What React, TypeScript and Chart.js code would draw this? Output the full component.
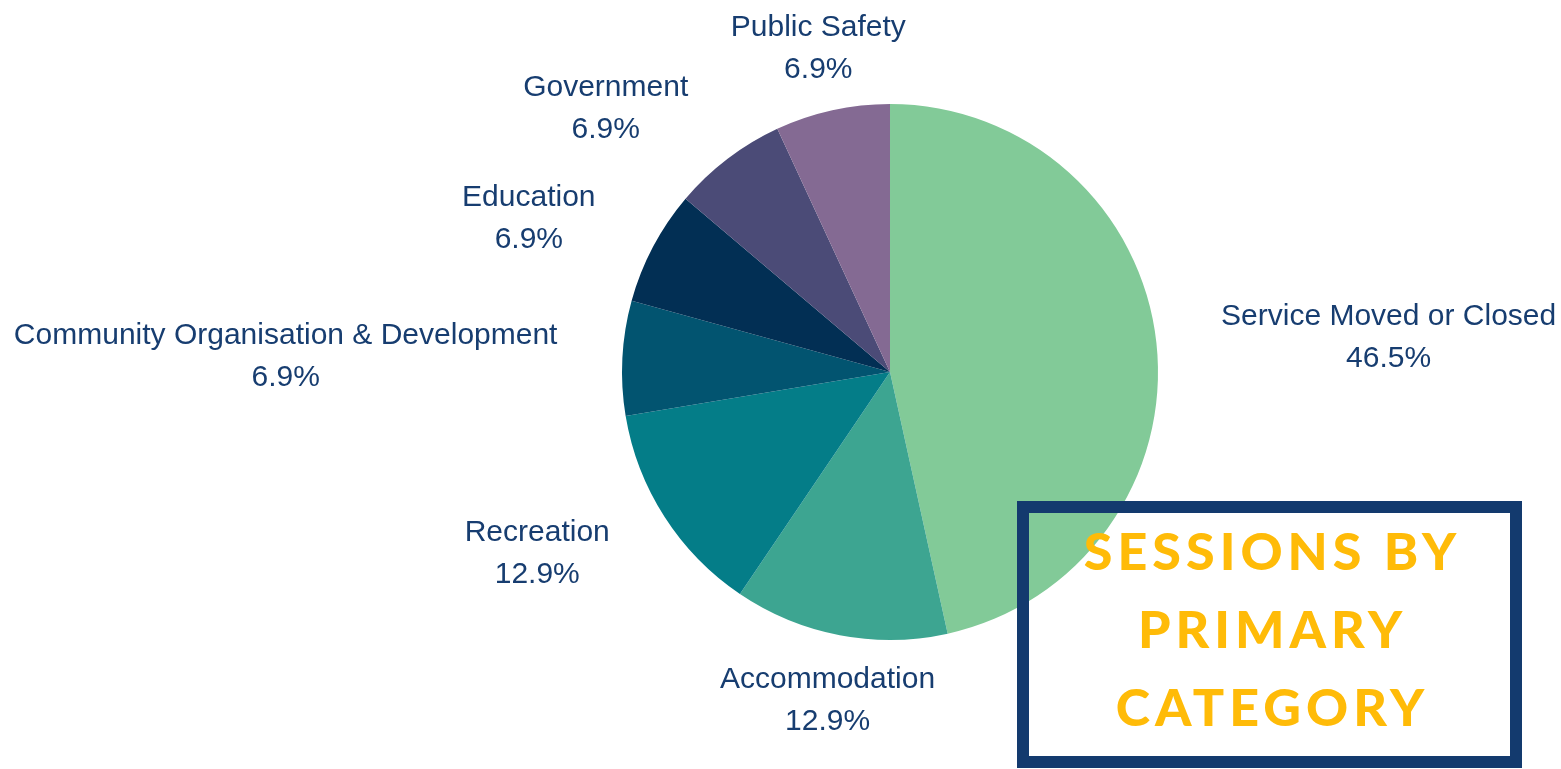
import React, { useEffect, useRef } from "react";
import { Chart, registerables } from "chart.js";

Chart.register(...registerables);

const categories = [
  "Service Moved or Closed",
  "Accommodation",
  "Recreation",
  "Community Organisation & Development",
  "Education",
  "Government",
  "Public Safety",
];
const values = [46.5, 12.9, 12.9, 6.9, 6.9, 6.9, 6.9];
const valueLabels = ["46.5%", "12.9%", "12.9%", "6.9%", "6.9%", "6.9%", "6.9%"];
const colors = ["#82ca98", "#3da591", "#047d88", "#025470", "#022f54", "#4b4b77", "#846a93"];
const titleLines = ["SESSIONS BY", "PRIMARY", "CATEGORY"];

const LABEL_COLOR = "#173d70";
const LABEL_FONT = "30px 'Liberation Sans', Arial, sans-serif";

const labelPlugin = {
  id: "outsideLabels",
  afterDatasetsDraw(chart: any) {
    const ctx = chart.ctx as CanvasRenderingContext2D;
    const meta = chart.getDatasetMeta(0);
    ctx.save();
    ctx.font = LABEL_FONT;
    ctx.fillStyle = LABEL_COLOR;
    ctx.textBaseline = "middle";
    const lineH = 42;
    meta.data.forEach((arc: any, i: number) => {
      const { x, y, startAngle, endAngle, outerRadius } = arc.getProps(
        ["x", "y", "startAngle", "endAngle", "outerRadius"],
        true
      );
      const mid = (startAngle + endAngle) / 2;
      const R = outerRadius + 65;
      const dx = Math.cos(mid);
      const dy = Math.sin(mid);
      const px = x + dx * R;
      const py = y + dy * R + 2;
      const lines = [categories[i], valueLabels[i]];
      const w = Math.max(...lines.map((l) => ctx.measureText(l).width));
      let cx: number;
      if (Math.abs(dx) < 0.3) cx = px;
      else if (dx > 0) cx = px + w / 2;
      else cx = px - w / 2;
      ctx.textAlign = "center";
      const top = py - lineH / 2;
      lines.forEach((l, k) => {
        ctx.fillText(l, cx, top + k * lineH);
      });
    });
    ctx.restore();
  },
};

const boxPlugin = {
  id: "titleBox",
  afterDraw(chart: any) {
    const ctx = chart.ctx as CanvasRenderingContext2D;
    ctx.save();
    ctx.strokeStyle = "#133a6e";
    ctx.lineWidth = 12;
    ctx.strokeRect(1017 + 6, 501 + 6, 505 - 12, 267 - 12);
    ctx.fillStyle = "#ffbb08";
    ctx.font = "900 52px Lato, 'DejaVu Sans', sans-serif";
    const spacing = 5;
    (ctx as any).letterSpacing = spacing + "px";
    ctx.textAlign = "center";
    ctx.textBaseline = "alphabetic";
    const baselines = [570, 648, 726];
    titleLines.forEach((t, i) => {
      ctx.fillText(t, 1270 + spacing / 2, baselines[i]);
    });
    ctx.restore();
  },
};

export default function App() {
  const ref = useRef<HTMLCanvasElement | null>(null);
  useEffect(() => {
    if (!ref.current) return;
    const chart = new Chart(ref.current, {
      type: "pie",
      data: {
        labels: categories,
        datasets: [
          {
            data: values,
            backgroundColor: colors,
            borderWidth: 0,
          },
        ],
      },
      options: {
        animation: false,
        responsive: true,
        maintainAspectRatio: false,
        layout: { padding: { left: 622, right: 403, top: 104, bottom: 129 } },
        plugins: {
          legend: { display: false },
          tooltip: { enabled: false },
        },
      },
      plugins: [labelPlugin, boxPlugin],
    });
    return () => chart.destroy();
  }, []);
  return (
    <div style={{ position: "absolute", left: 0, top: 0, width: 1561, height: 769, background: "#fff" }}>
      <canvas ref={ref} />
    </div>
  );
}
